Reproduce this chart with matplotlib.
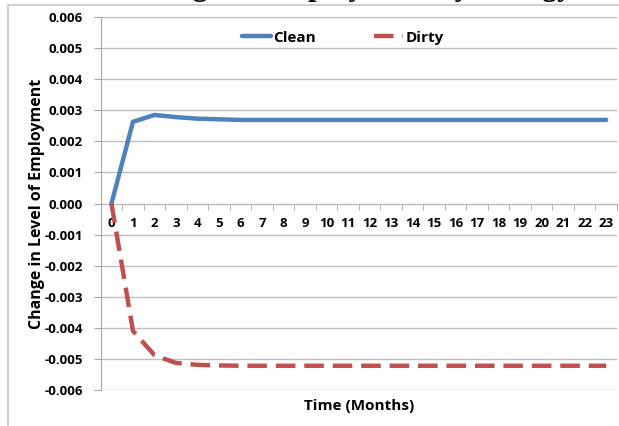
import matplotlib.pyplot as plt
from matplotlib.patches import Rectangle
import numpy as np

# Datos
months = list(range(24))
clean = [0.0, 0.00263, 0.00285, 0.00278, 0.00273, 0.00271, 0.00269, 0.00269,
         0.00269, 0.00269, 0.00269, 0.00269, 0.00269, 0.00269, 0.00269, 0.00269,
         0.00269, 0.00269, 0.00269, 0.00269, 0.00269, 0.00269, 0.00269, 0.00269]
dirty = [0.0, -0.0041, -0.00488, -0.00513, -0.00519, -0.00521, -0.00522, -0.00522,
         -0.00522, -0.00522, -0.00522, -0.00522, -0.00522, -0.00522, -0.00522, -0.00522,
         -0.00522, -0.00522, -0.00522, -0.00522, -0.00522, -0.00522, -0.00522, -0.00522]
yticks = [0.006, 0.005, 0.004, 0.003, 0.002, 0.001, 0.0,
          -0.001, -0.002, -0.003, -0.004, -0.005, -0.006]

plt.rcParams['font.family'] = ['Open Sans', 'DejaVu Sans']

fig = plt.figure(figsize=(6.19, 4.26), dpi=100)
ax = fig.add_axes([0.1627, 0.0845, 0.834, 0.8755])

# marco de la figura
fig.patches.append(Rectangle((8 / 619, -0.01), 1.0, 1 - 4.5 / 426 + 0.01,
                             transform=fig.transFigure, fill=False,
                             edgecolor='#c8c8c8', linewidth=1.2))

# titulo cortado arriba (solo se ven los trazos inferiores)
fig.text(0.56, 1 + 5.5 / 426, "Change in Employment by Energy",
         family='Liberation Serif', fontweight='bold', fontsize=22,
         ha='center', va='baseline')

ax.plot(months, clean, color='#4F81BD', linewidth=3.2, label='Clean',
        solid_capstyle='round')
ax.plot(months, dirty, color='#C0504D', linewidth=3.2, label='Dirty',
        linestyle=(0, (4.4, 2.0)), dash_capstyle='butt')

ax.set_xlim(-0.5, 23.5)
ax.set_ylim(-0.006, 0.006)
ax.set_yticks(yticks)
ax.set_yticklabels(['{:.3f}'.format(v) for v in yticks])
ax.set_xticks(months)
ax.set_xticks(np.arange(-0.5, 24, 1), minor=True)

ax.grid(axis='y', color='#bfbfbf', linewidth=1)
ax.set_axisbelow(True)

for s in ['top', 'right']:
    ax.spines[s].set_visible(False)
ax.spines['left'].set_color('#a6a6a6')
ax.spines['bottom'].set_color('#a6a6a6')
ax.spines['bottom'].set_position(('data', 0))
ax.spines['bottom'].set_zorder(0)

ax.tick_params(axis='x', which='major', length=0, pad=10, labelsize=9.5)
ax.tick_params(axis='x', which='minor', length=4, color='#a6a6a6', direction='out')
ax.tick_params(axis='y', length=5, color='#a6a6a6', labelsize=9.5, pad=8)
for lab in ax.get_xticklabels() + ax.get_yticklabels():
    lab.set_fontweight('bold')

ax.set_xlabel('Time (Months)', fontsize=11, fontweight='bold')
ax.set_ylabel('Change in Level of Employment', fontsize=11.5, fontweight='bold')
ax.xaxis.set_label_coords(0.5, -0.025)
ax.yaxis.set_label_coords(-0.108, 0.5)

ax.legend(loc='upper center', bbox_to_anchor=(0.469, 1.0), ncol=2, frameon=False,
          handlelength=1.9, columnspacing=3.8, handletextpad=0.15,
          prop={'weight': 'bold', 'size': 11})

fig.savefig('out.png', dpi=100)
